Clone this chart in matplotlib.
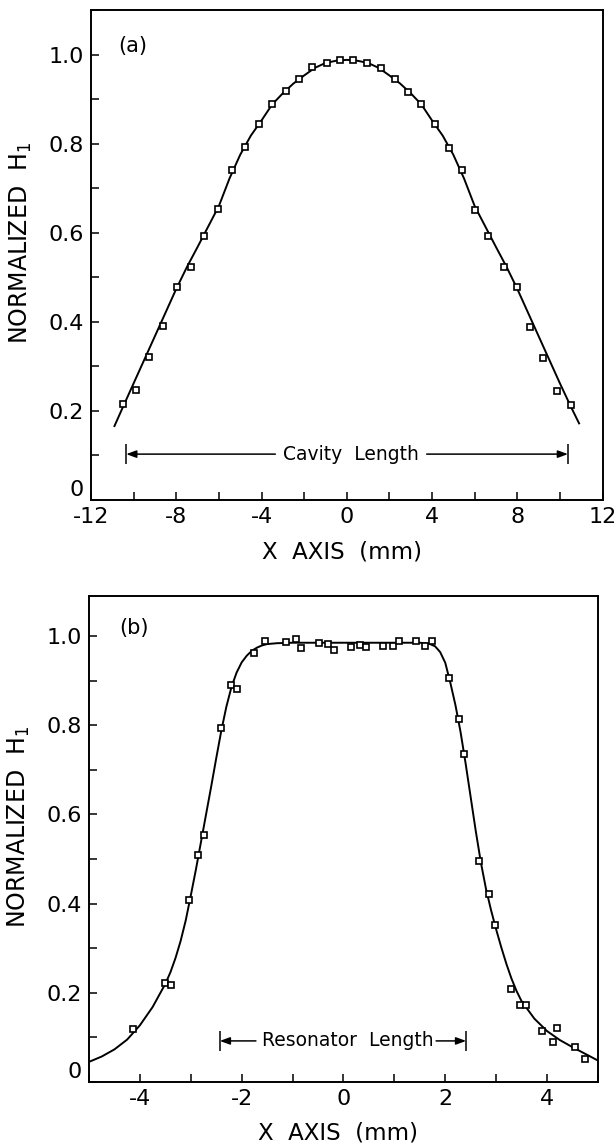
import matplotlib
matplotlib.use("Agg")
import matplotlib.pyplot as plt
from matplotlib.ticker import MultipleLocator

plt.rcParams['font.family'] = ['DejaVu Sans']

# (a) cavity field profile, measured points
xa = [-10.51, -9.89, -9.26, -8.60, -7.97, -7.31, -6.72, -6.06, -5.40, -4.77,
      -4.11, -3.52, -2.86, -2.23, -1.61, -0.95, -0.32, 0.30, 0.93, 1.59,
      2.25, 2.88, 3.47, 4.13, 4.79, 5.42, 6.01, 6.63, 7.37, 7.99,
      8.58, 9.21, 9.87, 10.53]
ya = [0.215, 0.247, 0.320, 0.391, 0.478, 0.523, 0.592, 0.654, 0.740, 0.792,
      0.843, 0.889, 0.917, 0.944, 0.972, 0.982, 0.987, 0.987, 0.982, 0.969,
      0.944, 0.916, 0.889, 0.843, 0.791, 0.740, 0.652, 0.593, 0.523, 0.478,
      0.389, 0.318, 0.244, 0.213]

# (a) fitted curve
xa_fit = [-10.9, -10.5, -10.0, -9.5, -9.0, -8.5, -8.0, -7.5, -7.0, -6.5,
          -6.0, -5.5, -5.0, -4.5, -4.0, -3.5, -3.0, -2.5, -2.0, -1.5,
          -1.0, -0.5, 0.0, 0.5, 1.0, 1.5, 2.0, 2.5, 3.0, 3.5,
          4.0, 4.5, 5.0, 5.5, 6.0, 6.5, 7.0, 7.5, 8.0, 8.5,
          9.0, 9.5, 10.0, 10.5, 10.9]
ya_fit = [0.166, 0.209, 0.262, 0.315, 0.368, 0.421, 0.474, 0.523, 0.568, 0.614,
          0.660, 0.722, 0.775, 0.818, 0.852, 0.888, 0.913, 0.935, 0.953, 0.970,
          0.981, 0.986, 0.988, 0.986, 0.981, 0.970, 0.953, 0.935, 0.913, 0.888,
          0.852, 0.818, 0.775, 0.722, 0.660, 0.614, 0.568, 0.523, 0.474, 0.421,
          0.368, 0.315, 0.262, 0.211, 0.172]

# (b) resonator field profile, measured points
xb = [-4.13, -3.50, -3.38, -3.04, -2.85, -2.74, -2.41, -2.21, -2.10, -1.76,
      -1.54, -1.13, -0.93, -0.84, -0.48, -0.30, -0.19, 0.15, 0.33, 0.44,
      0.78, 0.98, 1.10, 1.43, 1.61, 1.74, 2.07, 2.26, 2.37, 2.66,
      2.86, 2.97, 3.29, 3.46, 3.58, 3.91, 4.11, 4.20, 4.54, 4.74]
yb = [0.119, 0.222, 0.218, 0.409, 0.509, 0.553, 0.793, 0.890, 0.882, 0.963,
      0.990, 0.987, 0.993, 0.973, 0.985, 0.982, 0.969, 0.976, 0.981, 0.975,
      0.978, 0.978, 0.990, 0.988, 0.978, 0.988, 0.905, 0.814, 0.735, 0.496,
      0.422, 0.353, 0.209, 0.172, 0.173, 0.115, 0.089, 0.122, 0.079, 0.051]

# (b) fitted curve
xb_fit = [-5.0, -4.75, -4.5, -4.25, -4.0, -3.75, -3.5, -3.4, -3.3, -3.2,
          -3.1, -3.0, -2.9, -2.8, -2.7, -2.6, -2.5, -2.4, -2.3, -2.2,
          -2.1, -2.0, -1.9, -1.8, -1.7, -1.6, -1.5, -1.3, -1.0, 0.0,
          1.0, 1.5, 1.6, 1.7, 1.8, 1.9, 2.0, 2.1, 2.2, 2.3,
          2.4, 2.5, 2.6, 2.7, 2.8, 2.9, 3.0, 3.1, 3.2, 3.3,
          3.4, 3.5, 3.75, 4.0, 4.25, 4.5, 4.75, 5.0]
yb_fit = [0.045, 0.057, 0.073, 0.095, 0.127, 0.168, 0.220, 0.246, 0.278, 0.316,
          0.362, 0.418, 0.476, 0.538, 0.600, 0.662, 0.726, 0.788, 0.842, 0.886,
          0.918, 0.941, 0.956, 0.967, 0.974, 0.979, 0.982, 0.984, 0.985, 0.985,
          0.985, 0.985, 0.984, 0.982, 0.977, 0.964, 0.940, 0.895, 0.845, 0.785,
          0.714, 0.638, 0.562, 0.492, 0.433, 0.385, 0.342, 0.302, 0.265, 0.232,
          0.204, 0.181, 0.142, 0.114, 0.094, 0.078, 0.063, 0.048]

xticks_a = [-12, -8, -4, 0, 4, 8, 12]
xlabels_a = ['-12', '-8', '-4', '0', '4', '8', '12']
xticks_b = [-4, -2, 0, 2, 4]
xlabels_b = ['-4', '-2', '0', '2', '4']
yticks = [0, 0.2, 0.4, 0.6, 0.8, 1.0]
ylabels = ['0', '0.2', '0.4', '0.6', '0.8', '1.0']


def style_axes(ax, xlim, ylim, xticks, xlabels, xminor):
    ax.set_xlim(*xlim)
    ax.set_ylim(*ylim)
    ax.set_xticks(xticks)
    ax.set_xticklabels(xlabels)
    ax.set_yticks(yticks)
    ax.set_yticklabels(ylabels)
    ax.get_yticklabels()[0].set_va('bottom')
    ax.xaxis.set_minor_locator(MultipleLocator(xminor))
    ax.yaxis.set_minor_locator(MultipleLocator(0.1))
    ax.tick_params(which='both', direction='in', length=6, width=1.1,
                   top=False, right=False, labelsize=16, pad=5)
    for s in ax.spines.values():
        s.set_linewidth(1.4)
    ax.set_xlabel('X  AXIS  (mm)', fontsize=16.5, va='center')
    ax.xaxis.set_label_coords(0.49, -0.106)
    ax.set_ylabel('NORMALIZED  H$_\\mathregular{1}$', fontsize=17, va='center')
    ax.yaxis.set_label_coords(-0.137, 0.525)


def length_marker(ax, x0, x1, y, text, tx, t0, t1):
    ax.text(tx, y, text, ha='center', va='center', fontsize=13.5)
    for xa_, xb_ in ((t0, x0), (t1, x1)):
        ax.annotate('', xy=(xb_, y), xytext=(xa_, y),
                    arrowprops=dict(arrowstyle='-|>,head_length=0.6,head_width=0.22',
                                    color='black', lw=1.1, shrinkA=0, shrinkB=0))
    ax.vlines([x0, x1], y - 0.022, y + 0.022, color='black', lw=1.1)


fig = plt.figure(figsize=(6.15, 11.46), dpi=100)

ax1 = fig.add_axes([0.148, 0.5637, 0.8317, 0.4276])
ax1.plot(xa_fit, ya_fit, color='black', lw=1.4, zorder=2)
ax1.plot(xa, ya, 's', ms=5, mfc='white', mec='black', mew=1.2, zorder=3)
style_axes(ax1, (-12, 12), (0, 1.1), xticks_a, xlabels_a, 2)
ax1.text(-10.05, 1.02, '(a)', ha='center', va='center', fontsize=15)
length_marker(ax1, -10.35, 10.38, 0.103, 'Cavity  Length', 0.2, -3.35, 3.75)

ax2 = fig.add_axes([0.1447, 0.0559, 0.8276, 0.4241])
ax2.plot(xb_fit, yb_fit, color='black', lw=1.4, zorder=2)
ax2.plot(xb, yb, 's', ms=5, mfc='white', mec='black', mew=1.2, zorder=3)
style_axes(ax2, (-5, 5), (0, 1.09), xticks_b, xlabels_b, 1)
ax2.text(-4.12, 1.018, '(b)', ha='center', va='center', fontsize=15)
length_marker(ax2, -2.43, 2.41, 0.092, 'Resonator  Length', 0.08, -1.72, 1.82)

fig.savefig('out.png', dpi=100)
